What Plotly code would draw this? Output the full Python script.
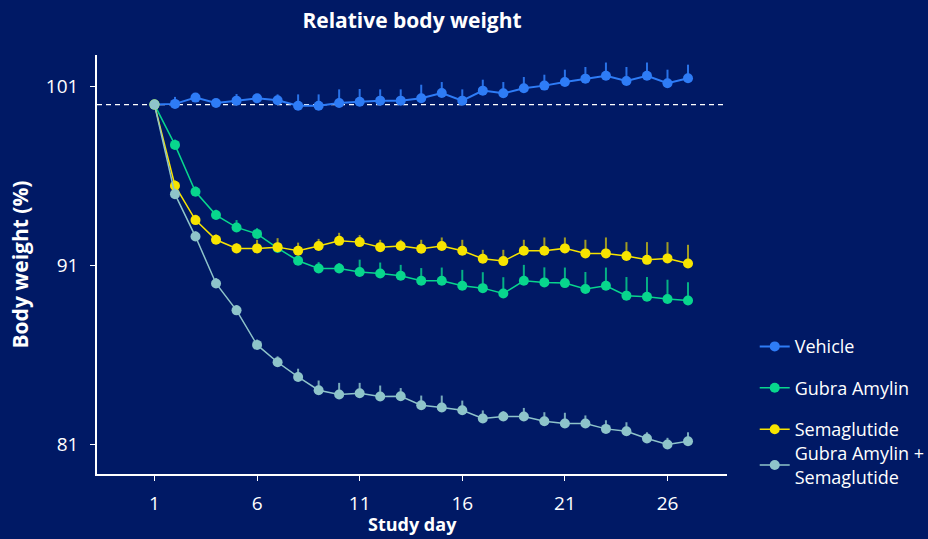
import plotly.graph_objects as go

days = list(range(1, 28))

vehicle = [100.0, 100.04, 100.39, 100.09, 100.22, 100.35, 100.24, 99.94, 99.94, 100.09,
           100.16, 100.22, 100.22, 100.35, 100.65, 100.22, 100.78, 100.63, 100.91, 101.06,
           101.26, 101.45, 101.61, 101.32, 101.61, 101.19, 101.47]
vehicle_err = [0.0, 0.39, 0.2, 0.2, 0.37, 0.2, 0.33, 0.63, 0.63, 0.76,
               0.71, 0.63, 0.63, 0.76, 0.61, 0.63, 0.61, 0.63, 0.63, 0.61,
               0.69, 0.65, 0.74, 0.78, 0.74, 0.76, 0.76]

amylin = [100.0, 97.75, 95.13, 93.83, 93.14, 92.78, 91.99, 91.28, 90.85, 90.85,
          90.65, 90.57, 90.44, 90.16, 90.16, 89.88, 89.75, 89.45, 90.16, 90.07,
          90.03, 89.70, 89.88, 89.33, 89.27, 89.14, 89.06]
amylin_err = [0.0, 0.3, 0.3, 0.3, 0.41, 0.32, 0.3, 0.25, 0.35, 0.3,
              0.69, 0.61, 0.61, 0.71, 0.74, 0.89, 0.89, 0.91, 0.89, 0.84,
              0.87, 0.95, 1.02, 1.04, 1.1, 1.08, 1.02]

sema = [100.0, 95.47, 93.55, 92.45, 91.97, 91.97, 92.04, 91.84, 92.1, 92.39,
        92.32, 92.04, 92.1, 91.95, 92.1, 91.84, 91.39, 91.26, 91.84, 91.84,
        91.97, 91.69, 91.69, 91.54, 91.33, 91.41, 91.13]
sema_err = [0.0, 0.3, 0.3, 0.3, 0.3, 0.48, 0.5, 0.45, 0.4, 0.45,
            0.39, 0.41, 0.35, 0.5, 0.48, 0.61, 0.5, 0.63, 0.61, 0.74,
            0.61, 0.76, 0.89, 0.78, 0.99, 0.91, 1.04]

combo = [100.0, 95.0, 92.63, 90.01, 88.51, 86.58, 85.61, 84.79, 84.05, 83.81,
         83.88, 83.7, 83.71, 83.21, 83.08, 82.93, 82.47, 82.58, 82.58, 82.32,
         82.19, 82.19, 81.89, 81.76, 81.35, 81.02, 81.2]
combo_err = [0.0, 0.3, 0.3, 0.3, 0.3, 0.3, 0.33, 0.46, 0.54, 0.65,
             0.58, 0.61, 0.46, 0.54, 0.67, 0.54, 0.45, 0.3, 0.48, 0.5,
             0.6, 0.45, 0.48, 0.5, 0.35, 0.37, 0.5]

names = ["Vehicle", "Gubra Amylin", "Semaglutide", "Gubra Amylin +<br>Semaglutide"]
colors = ["#2E7CF6", "#08D68D", "#F7E400", "#8EC4CA"]
err_colors = ["rgba(46,124,246,0.9)", "rgba(8,214,141,0.8)", "rgba(247,228,0,0.65)", "rgba(142,196,202,0.85)"]
series = [vehicle, amylin, sema, combo]
errors = [vehicle_err, amylin_err, sema_err, combo_err]
line_widths = [2, 1.5, 1.5, 1.5]
legends = ["legend", "legend", "legend", "legend2"]

x_ticks = [1, 6, 11, 16, 21, 26]
y_ticks = [81, 91, 101]

BG = "#001965"
FONT = "'Open Sans', 'Noto Sans', sans-serif"

fig = go.Figure()
for i in range(4):
    fig.add_trace(go.Scatter(
        x=days, y=series[i], name=names[i], mode="lines+markers",
        legendgroup=f"g{i}", legend=legends[i],
        line=dict(color=colors[i], width=line_widths[i]),
        marker=dict(color=colors[i], size=10),
        error_y=dict(type="data", symmetric=False, array=errors[i],
                     arrayminus=[0] * len(days), color=err_colors[i],
                     thickness=2, width=0),
    ))

fig.add_hline(y=100, line=dict(color="white", width=1.3, dash="5px,4px"), layer="below")

fig.add_annotation(text="<b>Study day</b>", xref="paper", yref="paper",
                   x=0.5, y=-0.1527, xanchor="center", yanchor="bottom",
                   showarrow=False, font=dict(size=18, color="white"))

fig.update_layout(
    width=928, height=539,
    paper_bgcolor=BG, plot_bgcolor=BG,
    margin=dict(l=97, r=201, t=55, b=65, autoexpand=False),
    font=dict(family=FONT, color="white", size=18),
    title=dict(text="<b>Relative body weight</b>", x=0.5, xref="paper",
               y=0.961, yref="container", xanchor="center", yanchor="middle",
               font=dict(size=21, color="white")),
    showlegend=True,
    legend=dict(x=1.044, xanchor="left", y=0.348, yanchor="top",
                bgcolor="rgba(0,0,0,0)", tracegroupgap=15,
                font=dict(size=18, color="white")),
    legend2=dict(x=1.044, xanchor="left", y=0.093, yanchor="top",
                 bgcolor="rgba(0,0,0,0)",
                 font=dict(size=18, color="white")),
    xaxis=dict(range=[-1.8, 28.9], tickvals=x_ticks, showgrid=False, zeroline=False,
               showline=True, linecolor="white", linewidth=1.5, automargin=False,
               ticks="outside", ticklen=5, tickcolor="white", tickwidth=1.2,
               ticklabelstandoff=6, tickfont=dict(size=19)),
    yaxis=dict(range=[79.37, 102.77], tickvals=y_ticks, showgrid=False, zeroline=False,
               showline=True, linecolor="white", linewidth=1.5, automargin=False,
               ticks="outside", ticklen=5, tickcolor="white", tickwidth=1.2,
               ticklabelstandoff=8, tickfont=dict(size=19),
               title=dict(text="<b>Body weight (%)</b>", standoff=12, font=dict(size=21))),
)

fig.write_html("out.html", config={"displayModeBar": False},
               post_script="document.body.style.margin='0';document.body.style.background='#001965';")
